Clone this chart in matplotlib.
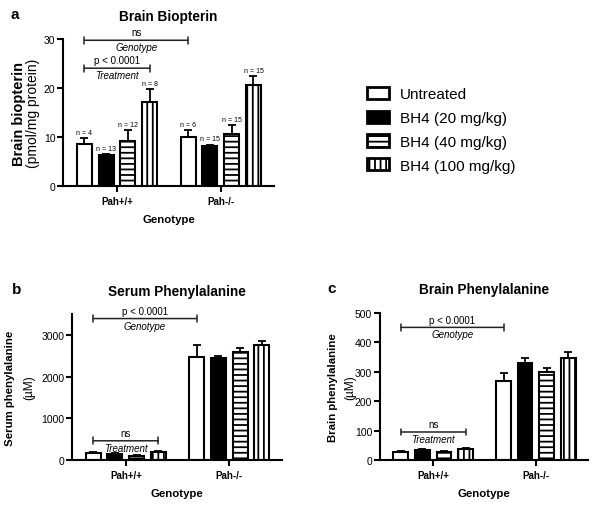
import matplotlib
matplotlib.use("Agg")
import matplotlib.pyplot as plt
from matplotlib.patches import Patch
import numpy as np

plt.rcParams['font.family'] = ['Liberation Sans', 'DejaVu Sans']
plt.rcParams['hatch.linewidth'] = 1.3

genotypes = ["Pah+/+", "Pah-/-"]
treatments = ["Untreated", "BH4 (20 mg/kg)", "BH4 (40 mg/kg)", "BH4 (100 mg/kg)"]

# brain biopterin (pmol/mg protein), rows = treatment, cols = genotype
bio_mean = [[8.6, 10.0], [6.4, 8.3], [9.2, 10.6], [17.1, 20.6]]
bio_err = [[1.2, 1.4], [0.2, 0.2], [2.3, 1.8], [2.8, 1.9]]
bio_n = [["n = 4", "n = 6"], ["n = 13", "n = 15"], ["n = 12", "n = 15"], ["n = 8", "n = 15"]]

# serum phenylalanine (uM)
ser_mean = [[168, 2465], [152, 2448], [104, 2600], [184, 2760]]
ser_err = [[32, 280], [10, 55], [16, 80], [32, 90]]

# brain phenylalanine (uM)
brn_mean = [[28, 269], [35, 328], [28, 297], [38, 347]]
brn_err = [[2, 26], [3, 19], [3, 15], [4, 19]]

# significance brackets: (label, group, y level)
bio_sig = [("ns", "Genotype", 29.8), ("p < 0.0001", "Treatment", 24.1)]
ser_sig = [("p < 0.0001", "Genotype", 3390), ("ns", "Treatment", 460)]
brn_sig = [("p < 0.0001", "Genotype", 450), ("ns", "Treatment", 95)]

styles = [dict(facecolor='white', hatch=None),
          dict(facecolor='black', hatch=None),
          dict(facecolor='white', hatch='---'),
          dict(facecolor='white', hatch='|||')]

pitch = 0.21
width = 0.145
offsets = (np.arange(4) - 1.5) * pitch
xg = np.arange(len(genotypes))

fig = plt.figure(figsize=(6.02, 5.10), dpi=100)


def bracket(ax, x1, x2, y, top, bottom):
    ax.annotate('', xy=(x1, y), xytext=(x2, y),
                arrowprops=dict(arrowstyle='|-|, widthA=0.25, widthB=0.25', lw=1.1,
                                color='#222222', shrinkA=0, shrinkB=0))
    xm = (x1 + x2) / 2
    ax.annotate(top, xy=(xm, y), xytext=(0, 2), textcoords='offset points',
                ha='center', va='bottom', fontsize=7)
    ax.annotate(bottom, xy=(xm, y), xytext=(0, -1.5), textcoords='offset points',
                ha='center', va='top', fontsize=7, style='italic')


def panel(rect, mean, err, ymax, yticks, title, letter, ylab1, ylab2,
          lab_off, sig, ylab_size, nlabels=None):
    ax = fig.add_axes(rect)
    for i in range(4):
        xs = xg + offsets[i]
        ax.bar(xs, mean[i], width, edgecolor='black', linewidth=1.5,
               zorder=2, **styles[i])
        ax.errorbar(xs, mean[i], yerr=[np.zeros(len(xs)), err[i]], fmt='none',
                    ecolor='black', elinewidth=1.3, capsize=3, capthick=1.3, zorder=1)
        if nlabels is not None:
            for j in range(len(xs)):
                ax.annotate(nlabels[i][j], xy=(xs[j], mean[i][j] + err[i][j]),
                            xytext=(0, 1.5), textcoords='offset points',
                            ha='center', va='bottom', fontsize=5)
    ax.set_xlim(-0.52, 1.51)
    ax.set_ylim(0, ymax)
    ax.set_yticks(yticks)
    ax.set_xticks(xg)
    ax.set_xticklabels(genotypes, fontweight='bold', fontsize=7)
    ax.tick_params(axis='y', length=4, width=1.5, labelsize=7.5, pad=1.5)
    ax.tick_params(axis='x', length=4, width=1.5, pad=3)
    for s in ['top', 'right']:
        ax.spines[s].set_visible(False)
    for s in ['left', 'bottom']:
        ax.spines[s].set_linewidth(1.5)
    ax.set_xlabel("Genotype", fontweight='bold', fontsize=8.2, labelpad=6)
    ax.set_title(title, fontweight='bold', fontsize=9.8, pad=14)
    ax.annotate(ylab1, xy=(0, 0.5), xycoords='axes fraction', xytext=(lab_off[0], 0),
                textcoords='offset points', rotation=90, ha='center', va='center',
                fontweight='bold', fontsize=ylab_size[0])
    ax.annotate(ylab2, xy=(0, 0.5), xycoords='axes fraction', xytext=(lab_off[1], 0),
                textcoords='offset points', rotation=90, ha='center', va='center',
                fontsize=ylab_size[1])
    ax.annotate(letter, xy=(0, 1), xycoords='axes fraction', xytext=(lab_off[2], 18),
                textcoords='offset points', ha='center', va='center',
                fontweight='bold', fontsize=11)
    # genotype bracket: first bar of each group; treatment bracket: bars 1-4 of Pah+/+
    bracket(ax, xg[0] + offsets[0], xg[1] + offsets[0], sig[0][2], sig[0][0], sig[0][1])
    bracket(ax, xg[0] + offsets[0], xg[0] + offsets[3], sig[1][2], sig[1][0], sig[1][1])
    return ax


panel([0.1047, 0.633, 0.350, 0.288], bio_mean, bio_err, 30, [0, 10, 20, 30],
      "Brain Biopterin", "a", "Brain biopterin", "(pmol/mg protein)",
      (-32, -21.5, -35), bio_sig, (10.5, 10), nlabels=bio_n)
panel([0.1196, 0.0961, 0.349, 0.2863], ser_mean, ser_err, 3500, [0, 1000, 2000, 3000],
      "Serum Phenylalanine", "b", "Serum phenylalanine", "(\u00b5M)",
      (-44.5, -31, -40), ser_sig, (8.2, 8.6))
panel([0.631, 0.0961, 0.346, 0.2889], brn_mean, brn_err, 500, [0, 100, 200, 300, 400, 500],
      "Brain Phenylalanine", "c", "Brain phenylalanine", "(\u00b5M)",
      (-34, -21, -35), brn_sig, (8.2, 8.6))

handles = [Patch(edgecolor='black', linewidth=2, **st) for st in styles]
fig.legend(handles, treatments, loc='upper left', bbox_to_anchor=(0.6096, 0.828),
           frameon=False, fontsize=11, borderaxespad=0, borderpad=0,
           handlelength=1.45, handleheight=0.85, handletextpad=0.7, labelspacing=0.62)

fig.savefig("out.png", dpi=100)
